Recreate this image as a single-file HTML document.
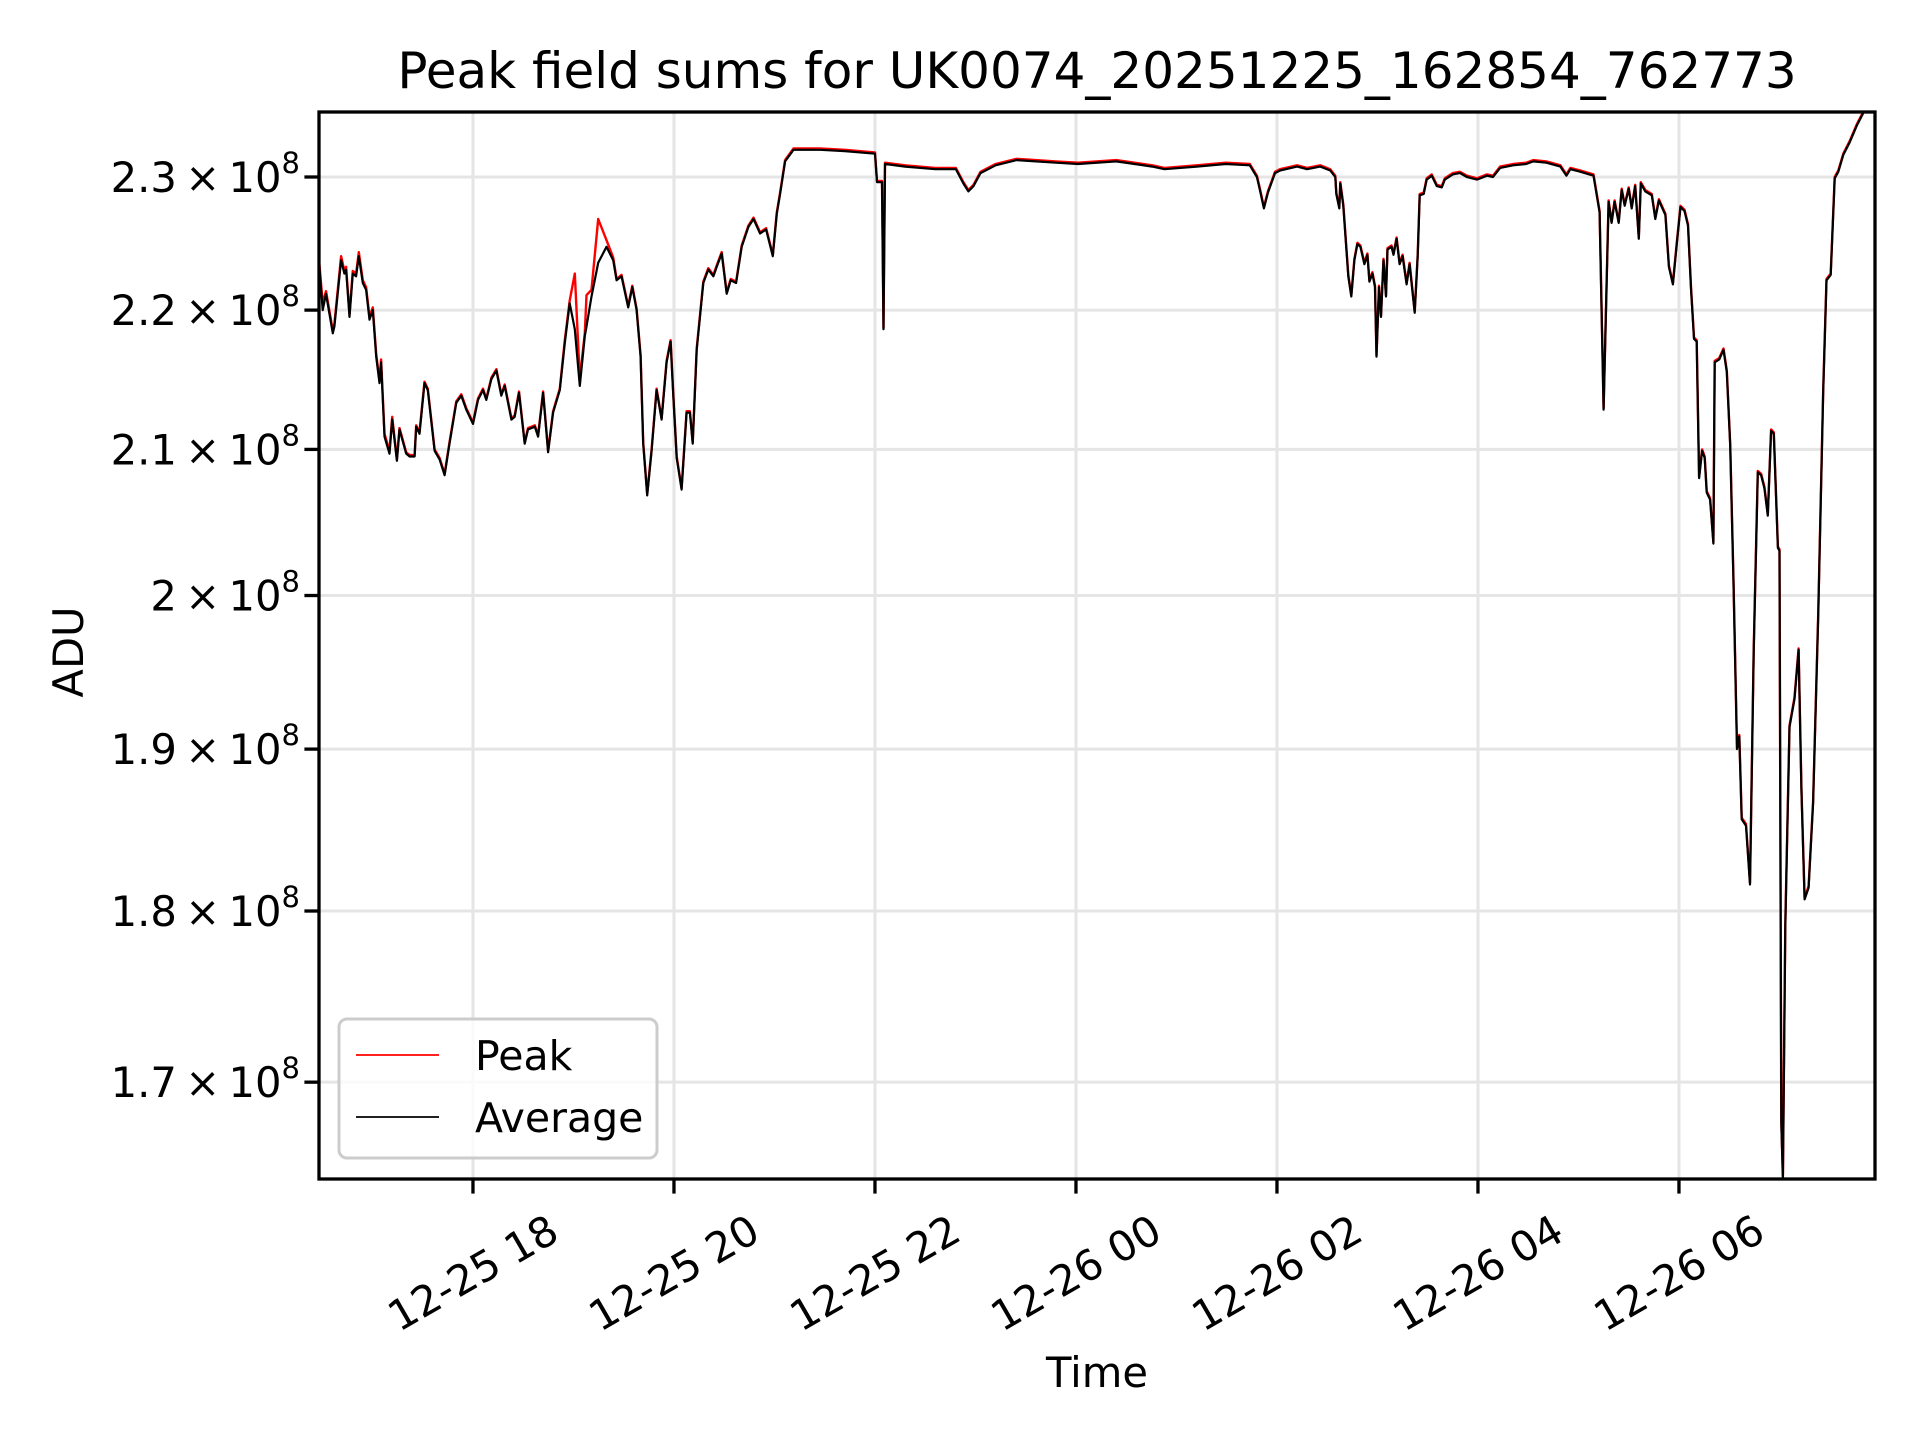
<!DOCTYPE html>
<html><head><meta charset="utf-8"><title>Peak field sums</title>
<style>
html,body{margin:0;padding:0;background:#fff;}
svg{display:block;font-family:"DejaVu Sans","Liberation Sans",sans-serif;}
</style></head>
<body>
<svg id="chart" width="1920" height="1440" viewBox="0 0 1920 1440" xmlns="http://www.w3.org/2000/svg">
<rect x="0" y="0" width="1920" height="1440" fill="#fff"/>
<defs><clipPath id="plotclip"><rect x="319" y="112" width="1556" height="1067"/></clipPath></defs>
<g id="grid"></g>
<g id="series" clip-path="url(#plotclip)"></g>
<rect x="319" y="112" width="1556" height="1067" fill="none" stroke="#000" stroke-width="3.3"/>
<g id="xticks"></g>
<g id="yticks"></g>
<text x="1097" y="88" font-size="50" text-anchor="middle">Peak field sums for UK0074_20251225_162854_762773</text>
<text x="83" y="652" font-size="41.7" text-anchor="middle" transform="rotate(-90 83 652)">ADU</text>
<text x="1097" y="1387" font-size="41.7" text-anchor="middle">Time</text>
<g>
<rect x="339" y="1019" width="318" height="139" rx="8" fill="#fff" fill-opacity="0.8" stroke="#cccccc" stroke-width="3"/>
<line x1="356" y1="1055" x2="439" y2="1055" stroke="#ff0000" stroke-width="1.8"/>
<text x="475" y="1070" font-size="41">Peak</text>
<line x1="356" y1="1117" x2="439" y2="1117" stroke="#000" stroke-width="1.8"/>
<text x="475" y="1132" font-size="41">Average</text>
</g>
</svg>
<script>
// Time in hours since 2025-12-25 00:00 (values > 24 are Dec 26)
const hours = [16.472,16.505,16.538,16.605,16.621,16.688,16.721,16.738,16.771,16.804,16.837,16.864,16.904,16.937,16.970,17.003,17.037,17.070,17.086,17.120,17.169,17.196,17.243,17.269,17.336,17.369,17.419,17.435,17.468,17.518,17.551,17.618,17.668,17.718,17.767,17.834,17.884,17.934,18.0,18.050,18.1,18.133,18.183,18.233,18.282,18.316,18.382,18.415,18.458,18.515,18.548,18.615,18.648,18.698,18.748,18.797,18.864,18.914,18.963,19.013,19.063,19.113,19.130,19.179,19.246,19.329,19.395,19.429,19.478,19.545,19.585,19.628,19.668,19.694,19.734,19.777,19.827,19.877,19.927,19.967,19.993,20.027,20.076,20.126,20.159,20.186,20.226,20.292,20.342,20.392,20.425,20.475,20.525,20.565,20.618,20.674,20.741,20.791,20.857,20.917,20.983,21.023,21.056,21.106,21.189,21.322,21.455,
21.7,22.0,22.02,22.07,22.085,22.1,22.3,22.6,22.805,22.88,22.93,22.98,23.05,23.2,23.41,23.6,23.8,24.02,24.4,24.76,24.88,25.2,25.49,25.73,25.80,25.83,25.87,25.91,25.98,
26.03,26.20,26.30,26.43,26.53,26.58,26.59,26.62,26.63,26.66,26.71,26.74,26.77,26.80,26.83,26.87,26.90,26.92,26.95,26.975,26.99,27.015,27.035,27.06,27.085,27.10,27.14,27.16,27.19,27.22,27.25,27.29,27.32,27.37,27.40,27.42,27.46,27.49,27.54,27.59,27.64,27.67,27.75,27.82,27.89,27.99,28.09,28.15,28.22,28.35,28.48,28.55,28.68,28.82,28.88,28.92,29.02,29.15,
29.21,29.25,29.30,29.33,29.36,29.40,29.43,29.46,29.50,29.53,29.565,29.60,29.62,29.665,29.73,29.765,29.80,29.865,29.90,29.94,29.975,30.015,30.055,30.09,30.12,30.15,30.176,30.20,30.23,30.256,30.276,30.31,30.343,30.356,30.40,30.443,30.476,30.51,30.543,30.577,30.60,30.624,30.667,30.707,30.744,30.784,30.817,30.85,30.884,30.917,30.944,30.984,31.0,31.018,31.034,31.058,31.10,31.15,31.19,31.218,31.25,31.29,31.335,31.385,31.435,31.468,31.51,31.55,31.585,31.635,31.70,31.77,31.836,32.0];
// Average field sums (x 1e8 ADU)
const average = [2.232,2.200,2.212,2.183,2.188,2.237,2.227,2.230,2.195,2.227,2.225,2.240,2.220,2.215,2.193,2.200,2.166,2.147,2.162,2.109,2.097,2.121,2.092,2.114,2.097,2.095,2.095,2.116,2.111,2.147,2.142,2.099,2.093,2.082,2.104,2.133,2.138,2.128,2.118,2.135,2.142,2.135,2.150,2.156,2.138,2.145,2.121,2.123,2.140,2.104,2.114,2.116,2.109,2.140,2.098,2.126,2.142,2.176,2.205,2.186,2.145,2.181,2.188,2.210,2.235,2.247,2.237,2.222,2.225,2.202,2.217,2.200,2.166,2.104,2.068,2.099,2.142,2.121,2.162,2.177,2.138,2.094,2.072,2.126,2.126,2.104,2.171,2.220,2.230,2.225,2.232,2.242,2.212,2.222,2.220,2.247,2.262,2.268,2.257,2.260,2.240,2.272,2.287,2.312,2.321,2.321,2.321,
2.320,2.318,2.296,2.296,2.186,2.310,2.308,2.306,2.306,2.295,2.289,2.293,2.303,2.309,2.313,2.312,2.311,2.310,2.312,2.308,2.306,2.308,2.310,2.309,2.300,2.290,2.276,2.288,2.303,
2.305,2.308,2.306,2.308,2.305,2.300,2.287,2.276,2.295,2.278,2.225,2.210,2.237,2.249,2.247,2.234,2.241,2.221,2.227,2.217,2.166,2.217,2.195,2.237,2.210,2.245,2.247,2.241,2.253,2.234,2.240,2.219,2.234,2.198,2.240,2.286,2.287,2.298,2.301,2.293,2.292,2.298,2.302,2.303,2.300,2.298,2.301,2.300,2.307,2.309,2.310,2.312,2.311,2.308,2.301,2.306,2.304,2.301,
2.273,2.128,2.281,2.265,2.281,2.265,2.290,2.278,2.291,2.276,2.293,2.253,2.295,2.289,2.286,2.268,2.282,2.271,2.232,2.219,2.247,2.277,2.274,2.263,2.216,2.179,2.177,2.080,2.099,2.094,2.070,2.065,2.035,2.162,2.164,2.171,2.155,2.103,2.009,1.900,1.908,1.856,1.852,1.816,1.963,2.084,2.082,2.073,2.054,2.113,2.111,2.032,2.030,1.677,1.645,1.791,1.914,1.932,1.964,1.875,1.807,1.814,1.866,1.986,2.141,2.222,2.226,2.299,2.304,2.317,2.327,2.340,2.350,2.357];
// Peak field sums (x 1e8 ADU)
const peak = [2.234,2.205,2.214,2.185,2.190,2.240,2.229,2.232,2.197,2.229,2.227,2.243,2.222,2.217,2.195,2.202,2.168,2.149,2.164,2.111,2.099,2.123,2.093,2.115,2.098,2.096,2.096,2.117,2.112,2.148,2.143,2.100,2.094,2.083,2.105,2.134,2.139,2.129,2.119,2.136,2.143,2.136,2.151,2.157,2.139,2.146,2.122,2.124,2.141,2.105,2.115,2.117,2.110,2.141,2.099,2.127,2.143,2.178,2.207,2.227,2.150,2.183,2.211,2.215,2.268,2.252,2.239,2.223,2.226,2.203,2.218,2.201,2.167,2.105,2.069,2.100,2.143,2.122,2.163,2.178,2.139,2.095,2.073,2.127,2.127,2.105,2.172,2.221,2.231,2.226,2.233,2.243,2.213,2.223,2.221,2.248,2.263,2.269,2.258,2.261,2.241,2.273,2.288,2.313,2.322,2.322,2.322,
2.321,2.319,2.297,2.297,2.187,2.311,2.309,2.307,2.307,2.296,2.290,2.294,2.304,2.310,2.314,2.313,2.312,2.311,2.313,2.309,2.307,2.309,2.311,2.310,2.301,2.291,2.277,2.289,2.304,
2.306,2.309,2.307,2.309,2.306,2.301,2.288,2.277,2.296,2.279,2.226,2.211,2.238,2.250,2.248,2.235,2.242,2.222,2.228,2.218,2.167,2.218,2.196,2.238,2.211,2.246,2.248,2.242,2.254,2.235,2.241,2.220,2.235,2.199,2.241,2.287,2.288,2.299,2.302,2.294,2.293,2.299,2.303,2.304,2.301,2.299,2.302,2.301,2.308,2.310,2.311,2.313,2.312,2.309,2.302,2.307,2.305,2.302,
2.274,2.129,2.282,2.266,2.282,2.266,2.291,2.279,2.292,2.277,2.294,2.254,2.296,2.290,2.287,2.269,2.283,2.272,2.233,2.220,2.248,2.278,2.275,2.264,2.217,2.180,2.178,2.081,2.100,2.095,2.071,2.066,2.036,2.163,2.165,2.172,2.156,2.104,2.010,1.901,1.909,1.857,1.853,1.817,1.964,2.085,2.083,2.074,2.055,2.114,2.112,2.033,2.031,1.678,1.648,1.792,1.915,1.933,1.965,1.876,1.808,1.815,1.867,1.987,2.142,2.223,2.227,2.300,2.305,2.318,2.328,2.341,2.351,2.358];
const xTickHours = [18,20,22,24,26,28,30];
const xTickLabels = ["12-25 18","12-25 20","12-25 22","12-26 00","12-26 02","12-26 04","12-26 06"];
const yTickValues = [1.7,1.8,1.9,2.0,2.1,2.2,2.3];
const yTickLabels = ["1.7","1.8","1.9","2","2.1","2.2","2.3"];

const NS = "http://www.w3.org/2000/svg";
const L = 319, R = 1875, T = 112, B = 1179;
const hMin = 16.468, pxPerHour = 100.5;
const pxPerDecade = 6895, refVal = 2.3, refY = 177;
function xScale(h){ return L + (h - hMin) * pxPerHour; }
function yScale(v){ return refY - (Math.log10(v) - Math.log10(refVal)) * pxPerDecade; }
function mk(tag, attrs, parent){
  const e = document.createElementNS(NS, tag);
  for (const k in attrs) e.setAttribute(k, attrs[k]);
  parent.appendChild(e); return e;
}
const grid = document.getElementById('grid');
const xt = document.getElementById('xticks');
const yt = document.getElementById('yticks');
const series = document.getElementById('series');

xTickHours.forEach((h, i) => {
  const x = xScale(h);
  const g = mk('line', {x1:x, y1:T, x2:x, y2:B, stroke:'#e5e5e5', 'stroke-width':3}, grid);
  
  
  const t = mk('line', {x1:x, y1:B, x2:x, y2:B+14.6, stroke:'#000', 'stroke-width':3.3}, xt);
  
  
  const cy = 1273;
  const lab = mk('text', {x:x, y:cy, 'font-size':41.7, 'text-anchor':'middle', 'dominant-baseline':'central', transform:'rotate(-30 '+x+' '+cy+')'}, xt);
  lab.textContent = xTickLabels[i];
  
  
});

yTickValues.forEach((v, i) => {
  const y = yScale(v);
  const g = mk('line', {x1:L, y1:y, x2:R, y2:y, stroke:'#e5e5e5', 'stroke-width':3}, grid);
  
  
  const t = mk('line', {x1:L-14.6, y1:y, x2:L, y2:y, stroke:'#000', 'stroke-width':3.3}, yt);
  
  
  const lab = mk('text', {x:300, y:y+15, 'font-size':41.7, 'text-anchor':'end'}, yt);
  
  
  const a = mk('tspan', {}, lab); a.textContent = yTickLabels[i] + '\u2009\u00d7\u200910';
  const s = mk('tspan', {dy:-19, 'font-size':29}, lab); s.textContent = '8';
});

function pathFor(vals){
  const n = Math.min(hours.length, vals.length);
  let d = '';
  for (let i = 0; i < n; i++) d += (i ? 'L' : 'M') + xScale(hours[i]).toFixed(1) + ' ' + yScale(vals[i]).toFixed(1);
  return d;
}
const pk = mk('path', {d:pathFor(peak), fill:'none', stroke:'#ff0000', 'stroke-width':2.4, 'stroke-linejoin':'round'}, series);


const av = mk('path', {d:pathFor(average), fill:'none', stroke:'#000', 'stroke-width':2.2, 'stroke-linejoin':'round'}, series);


</script>
</body></html>
